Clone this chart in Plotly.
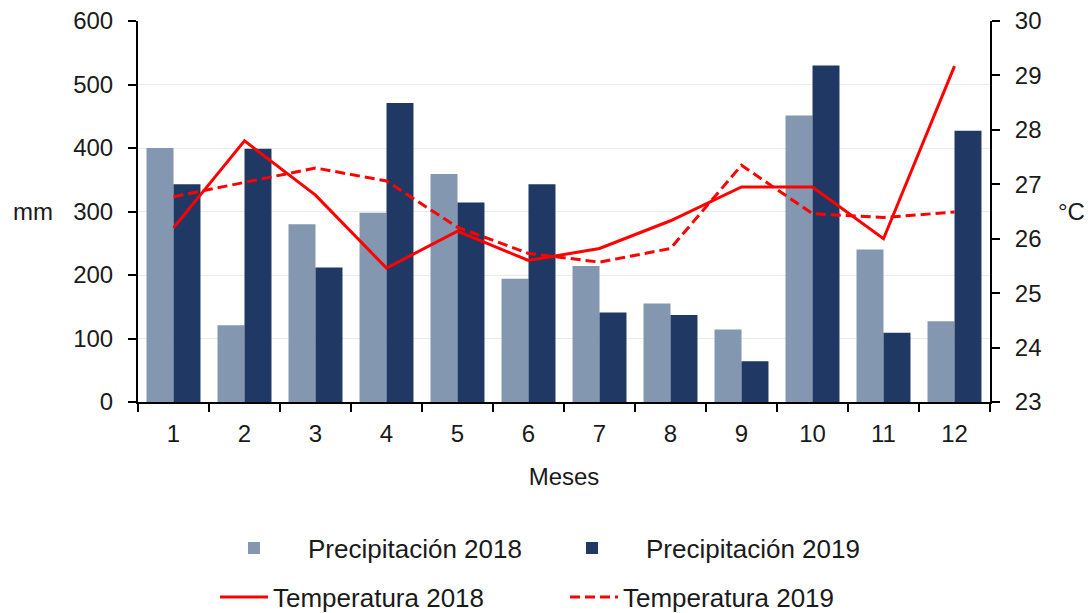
import plotly.graph_objects as go

# Monthly data
meses = [str(m) for m in range(1, 13)]
prec_2018 = [400, 121, 280, 298, 359, 194, 214, 155, 114, 451, 240, 127]
prec_2019 = [343, 399, 212, 471, 314, 343, 141, 137, 64, 530, 109, 427]
temp_2018 = [26.20, 27.80, 26.80, 25.46, 26.14, 25.60, 25.82, 26.33, 26.95, 26.95, 26.00, 29.17]
temp_2019 = [26.77, 27.04, 27.30, 27.06, 26.21, 25.73, 25.57, 25.82, 27.35, 26.46, 26.39, 26.49]

font_family = "Liberation Sans, Arial, sans-serif"
fs = 24
W, H = 1088, 613

fig = go.Figure()

fig.add_trace(go.Bar(
    x=meses, y=prec_2018, name='Precipitación 2018', legend='legend',
    marker=dict(color='#8497B0', line=dict(width=0)),
))
fig.add_trace(go.Bar(
    x=meses, y=prec_2019, name='Precipitación 2019', legend='legend',
    marker=dict(color='#203864', line=dict(width=0)),
))
fig.add_trace(go.Scatter(
    x=meses, y=temp_2018, name='Temperatura 2018', yaxis='y2', legend='legend2',
    mode='lines', line=dict(color='#FF0000', width=3),
))
fig.add_trace(go.Scatter(
    x=meses, y=temp_2019, name='Temperatura 2019', yaxis='y2', legend='legend2',
    mode='lines', line=dict(color='#FF0000', width=3, dash='10px,5px'),
))

legend_common = dict(
    orientation='h', xanchor='left', xref='container',
    yanchor='middle', yref='container', entrywidthmode='pixels',
    font=dict(size=26), traceorder='normal', bgcolor='rgba(0,0,0,0)',
)

fig.update_layout(
    width=W, height=H,
    margin=dict(l=138, r=98, t=21, b=211, autoexpand=False),
    paper_bgcolor='white', plot_bgcolor='white',
    font=dict(family=font_family, size=fs, color='#1a1a1a'),
    barmode='group', bargap=0.24, bargroupgap=0,
    xaxis=dict(
        title=dict(text='Meses', font=dict(size=fs), standoff=22),
        showline=True, linecolor='black', linewidth=2,
        ticks='outside', tickson='boundaries', ticklen=8, tickwidth=2, tickcolor='black',
        showgrid=False, tickfont=dict(size=fs), ticklabelstandoff=9,
    ),
    yaxis=dict(
        range=[0, 600], dtick=100,
        showline=True, linecolor='black', linewidth=2,
        ticks='outside', ticklen=8, tickwidth=2, tickcolor='black',
        showgrid=True, gridcolor='#EBEBEB', gridwidth=1,
        zeroline=False, tickfont=dict(size=fs), ticklabelstandoff=10,
    ),
    yaxis2=dict(
        range=[23, 30], dtick=1, overlaying='y', side='right',
        showline=True, linecolor='black', linewidth=2,
        ticks='outside', ticklen=8, tickwidth=2, tickcolor='black',
        showgrid=False, zeroline=False, tickfont=dict(size=fs), ticklabelstandoff=10,
    ),
    legend=dict(legend_common, x=200 / W, y=1 - 548 / H, itemwidth=98, entrywidth=225),
    legend2=dict(legend_common, x=215 / W, y=1 - 597 / H, itemwidth=48, entrywidth=287),
    annotations=[
        dict(text='mm', xref='paper', yref='paper', x=-0.097, y=0.5,
             xanchor='right', yanchor='middle', showarrow=False,
             font=dict(size=fs)),
        dict(text='°C', xref='paper', yref='paper', x=1.078, y=0.5,
             xanchor='left', yanchor='middle', showarrow=False,
             font=dict(size=fs)),
    ],
)

fig.write_html(
    "out.html",
    config={'displayModeBar': False},
    post_script="document.body.style.margin='0';document.body.style.overflow='hidden';",
)
